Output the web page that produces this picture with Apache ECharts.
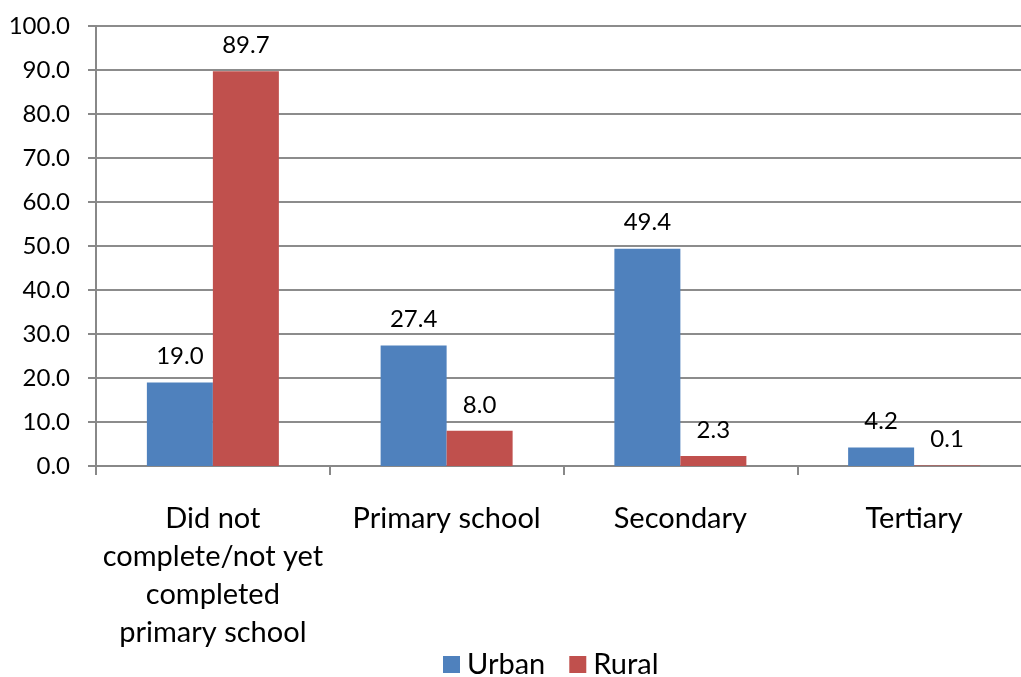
<!DOCTYPE html>
<html><head><meta charset="utf-8">
<script src="https://cdn.jsdelivr.net/npm/echarts@6/dist/echarts.min.js"></script>
<style>html,body{margin:0;padding:0;background:#fff;overflow:hidden}#c{width:1040px;height:677px}</style>
</head><body><div id="c"></div>
<script>
const categories = ["Did not\ncomplete/not yet\ncompleted\nprimary school", "Primary school", "Secondary", "Tertiary"];
const urban = [19.0, 27.4, 49.4, 4.2];
const rural = [89.7, 8.0, 2.3, 0.1];
const FONT = "Lato";
const chart = echarts.init(document.getElementById('c'));
const lbl = {show:true, position:'top', distance:14, fontSize:24, color:'#000', fontFamily:FONT, formatter: p => p.value.toFixed(1)};
chart.setOption({
  animation:false,
  textStyle:{fontFamily:FONT},
  grid:{left:96, top:26, width:935, height:440, containLabel:false},
  legend:{bottom:-7, left:438, itemWidth:17, itemHeight:17, itemGap:24, icon:'rect',
    textStyle:{fontSize:29, color:'#000', fontFamily:FONT, padding:[0,0,0,2]}, data:['Urban','Rural']},
  xAxis:{type:'category', data:categories,
    axisLine:{lineStyle:{color:'#888', width:2}},
    axisTick:{show:true, length:9, lineStyle:{color:'#888', width:2}},
    axisLabel:{fontSize:29, color:'#000', lineHeight:38, margin:34, fontFamily:FONT, interval:0}},
  yAxis:{type:'value', min:0, max:100, interval:10,
    axisLine:{show:true, lineStyle:{color:'#888', width:2}},
    axisTick:{show:true, length:8, lineStyle:{color:'#888', width:2}},
    splitLine:{lineStyle:{color:'#8c8c8c', width:2}},
    axisLabel:{fontSize:24, color:'#000', margin:26, fontFamily:FONT, formatter: v => v.toFixed(1)}},
  series:[
    {name:'Urban', type:'bar', data:urban, barWidth:66, barGap:'0%', itemStyle:{color:'#4F81BD'}, label:lbl},
    {name:'Rural', type:'bar', data:rural, barWidth:66, itemStyle:{color:'#C0504D'}, label:lbl}
  ]
});
</script></body></html>
